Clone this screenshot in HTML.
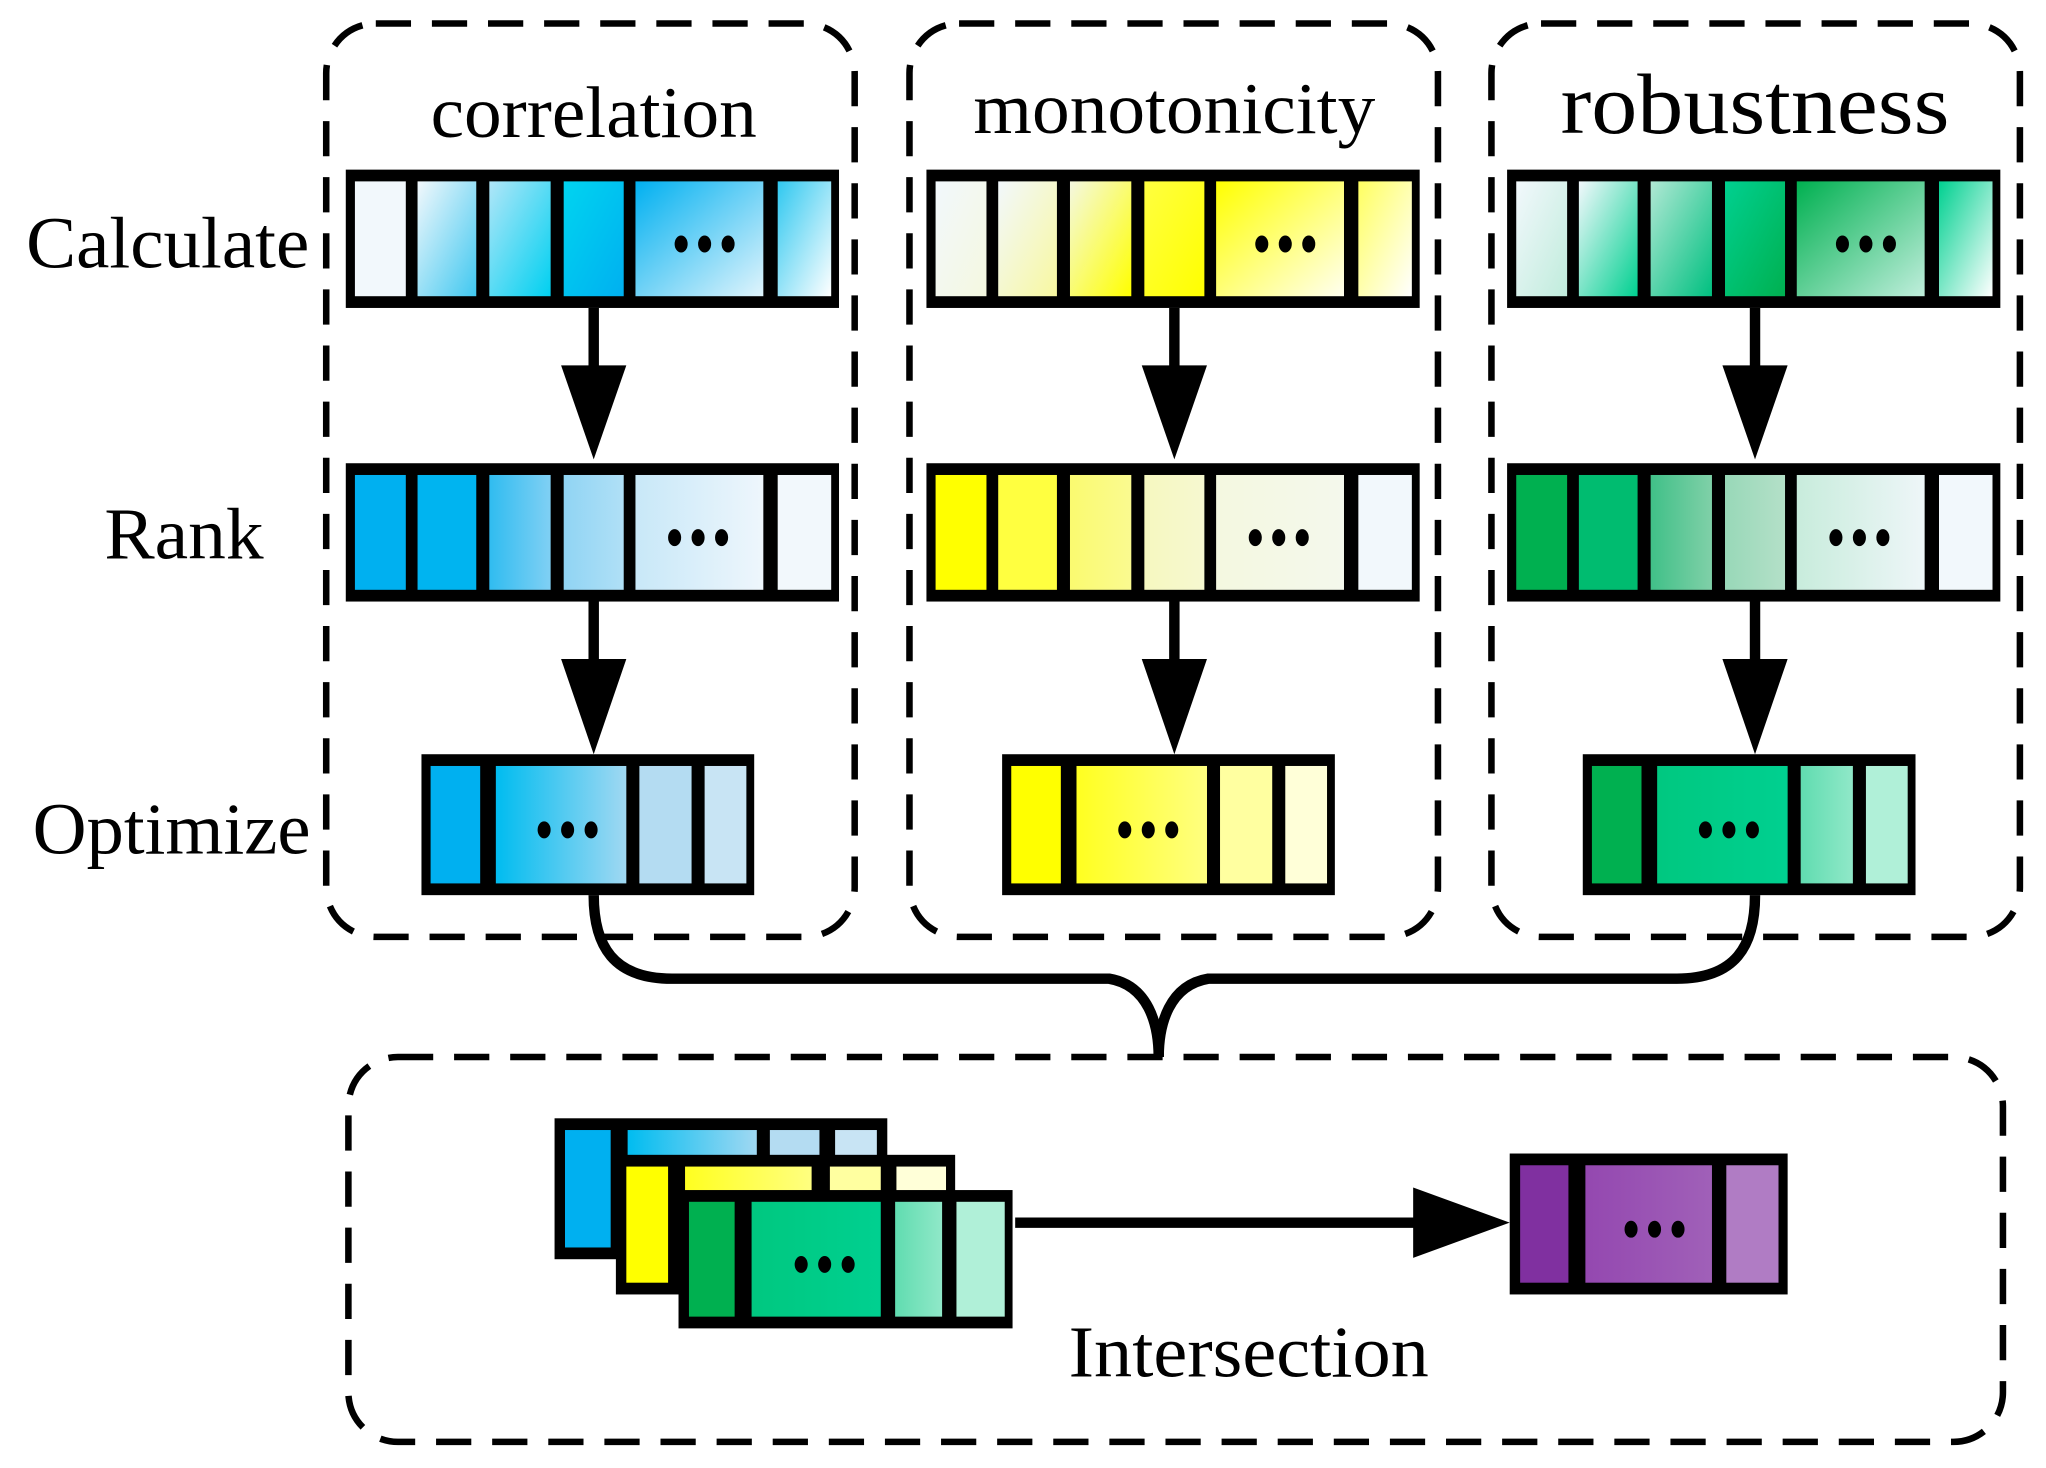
<!DOCTYPE html>
<html><head><meta charset="utf-8"><style>
html,body{margin:0;padding:0;background:#fff;width:2046px;height:1468px;overflow:hidden}
svg{display:block}
text{font-family:"Liberation Serif",serif;fill:#000}
</style></head><body>
<svg id="s" width="2046" height="1468" viewBox="0 0 1568 1125" preserveAspectRatio="none" xmlns="http://www.w3.org/2000/svg">
<defs id="d"></defs>
<g fill="none" stroke="#000" stroke-width="5" stroke-dasharray="27,16">
<rect x="250" y="18" width="405" height="700" rx="38"/>
<rect x="697" y="18" width="405" height="700" rx="38"/>
<rect x="1143" y="18" width="405" height="700" rx="38"/>
<rect x="267" y="810" width="1268" height="295" rx="38"/>
</g>
<text x="455" y="105" font-size="56" text-anchor="middle" textLength="250" lengthAdjust="spacingAndGlyphs">correlation</text>
<text x="900" y="102" font-size="56" text-anchor="middle" textLength="308" lengthAdjust="spacingAndGlyphs">monotonicity</text>
<text x="1345" y="102" font-size="66" text-anchor="middle" textLength="298" lengthAdjust="spacingAndGlyphs">robustness</text>
<text x="20" y="205" font-size="56" textLength="217" lengthAdjust="spacingAndGlyphs">Calculate</text>
<text x="80" y="428" font-size="56" textLength="122" lengthAdjust="spacingAndGlyphs">Rank</text>
<text x="25" y="654" font-size="56" textLength="213" lengthAdjust="spacingAndGlyphs">Optimize</text>
<text x="957" y="1055" font-size="56" text-anchor="middle" textLength="276" lengthAdjust="spacingAndGlyphs">Intersection</text>
<g id="bars"></g>
<g fill="none" stroke="#000" stroke-width="8">
<path d="M455,686 C455,725 470,750 515,750 L850,750 C880,755 888,785 888,810"/>
<path d="M1345,686 C1345,725 1330,750 1285,750 L926,750 C896,755 888,785 888,810"/>
<line x1="778" y1="937" x2="1090" y2="937"/>
</g>
<polygon points="1083,910 1157,937 1083,964" fill="#000"/>
</svg>
<script>
var NS="http://www.w3.org/2000/svg",d=document.getElementById('d'),B=document.getElementById('bars'),gi=0;
function grad(c1,c2,diag){var id='g'+(gi++);var g=document.createElementNS(NS,'linearGradient');g.setAttribute('id',id);
g.setAttribute('x1','0');g.setAttribute('y1','0');g.setAttribute('x2','1');g.setAttribute('y2',diag?'1':'0');
g.innerHTML='<stop offset="0" stop-color="'+c1+'"/><stop offset="1" stop-color="'+c2+'"/>';d.appendChild(g);return 'url(#'+id+')';}
function el(t,a){var e=document.createElementNS(NS,t);for(var k in a)e.setAttribute(k,a[k]);B.appendChild(e);return e;}
function bar(x1,y1,x2,y2,cells,dotx){el('rect',{x:x1,y:y1,width:x2-x1,height:y2-y1,fill:'#000'});
cells.forEach(function(c){el('rect',{x:c[0],y:y1+9,width:c[1]-c[0],height:y2-y1-18,fill:c[2]});});
if(dotx){var cy=(y1+y2)/2+4;[-18,0,18].forEach(function(o){el('ellipse',{cx:dotx+o,cy:cy,rx:5,ry:6.5,fill:'#000'});});}}
var L='#f2f8fc';
var P={
b:{c:[[L,L],[L,'#40c8f0'],['#b0e6f8','#00d0f0'],['#00d4f0','#00b0f0'],['#00b0f0','#00d8f2','#e0f4fc'],['#30c8f0','#ffffff']],
 r:[['#00b0f0','#00b0f0'],['#00b4f0','#00b4f0'],['#30bcf0','#80d0f4'],['#90d4f4','#b0e0f6'],['#c8e8f8','#eef6fc'],[L,L]],
 o:[['#00b0f0','#00b0f0'],['#00bcf0','#a0d8f2'],['#b4dcf2','#b4dcf2'],['#c8e4f4','#c8e4f4']]},
y:{c:[[L,'#f4f8e0'],[L,'#f8f8a0'],['#f4f8e0','#ffff00'],['#ffff40','#ffff00'],['#ffff00','#fffff0'],['#ffff60','#ffffff']],
 r:[['#ffff00','#ffff00'],['#ffff40','#ffff40'],['#fafa70','#fafa90'],['#f6f8c0','#f6f8d0'],['#f4f8e0','#f4f8ec'],[L,L]],
 o:[['#ffff00','#ffff00'],['#ffff20','#ffff80'],['#ffffa0','#ffffa0'],['#ffffd8','#ffffd8']]},
g:{c:[[L,'#c0ecdc'],[L,'#00d090'],['#b0e8d4','#00c080'],['#00d090','#00b050'],['#00b050','#00d090','#c0eedc'],['#00d090','#ffffff']],
 r:[['#00b050','#00b050'],['#00bc70','#00bc70'],['#40c088','#80d0a8'],['#98d8b8','#b4e0c8'],['#c8ecdc','#eef6f8'],[L,L]],
 o:[['#00b050','#00b050'],['#00c880','#00d090'],['#60dcb0','#90e8c8'],['#b0f0d8','#b0f0d8']]}};
function f(p,diag){return grad(p[0],p[p.length-1],diag);}
var cc=[[272,311],[320,365],[375,422],[432,478],[487,585],[596,637]],oc=[[330,368],[380,480],[490,530],[540,572]];
['b','y','g'].forEach(function(k,i){var dx=i*445;var p=P[k];
bar(265+dx,130,643+dx,236,cc.map(function(c,j){return [c[0]+dx,c[1]+dx,f(p.c[j],true)];}),540+dx);
bar(265+dx,355,643+dx,461,cc.map(function(c,j){return [c[0]+dx,c[1]+dx,f(p.r[j],false)];}),535+dx);
bar(323+dx,578,578+dx,686,oc.map(function(c,j){return [c[0]+dx,c[1]+dx,f(p.o[j],false)];}),435+dx);
var ax=455+dx;
el('line',{x1:ax,y1:236,x2:ax,y2:285,stroke:'#000','stroke-width':8});
el('polygon',{points:(ax-25)+',280 '+(ax+25)+',280 '+ax+',352',fill:'#000'});
el('line',{x1:ax,y1:461,x2:ax,y2:510,stroke:'#000','stroke-width':8});
el('polygon',{points:(ax-25)+',505 '+(ax+25)+',505 '+ax+',578',fill:'#000'});
});
bar(425,857,680,965,[[433,468,f(P.b.o[0])],[481,580,f(P.b.o[1])],[590,628,f(P.b.o[2])],[640,672,f(P.b.o[3])]]);
bar(472,885,732,992,[[480,512,f(P.y.o[0])],[525,622,f(P.y.o[1])],[636,675,f(P.y.o[2])],[687,725,f(P.y.o[3])]]);
bar(520,912,776,1018,[[528,563,f(P.g.o[0])],[576,675,f(P.g.o[1])],[686,722,f(P.g.o[2])],[733,770,f(P.g.o[3])]],632);
bar(1157,884,1370,992,[[1165,1202,grad('#8030a0','#8030a0')],[1215,1312,grad('#9448b0','#a060b8')],[1323,1363,grad('#b07cc4','#b07cc4')]],1268);
</script>
</body></html>
